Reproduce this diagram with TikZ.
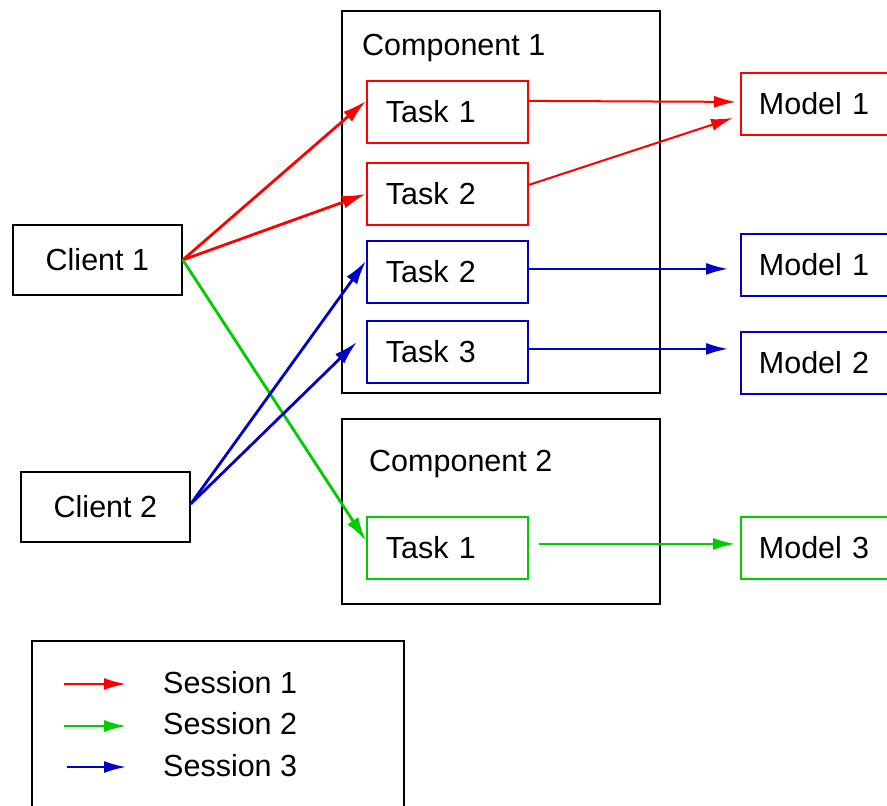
\documentclass[tikz,border=0pt]{standalone}
\usepackage{fontspec}
\setmainfont{Liberation Sans}
\usetikzlibrary{arrows.meta}
\definecolor{sred}{RGB}{255,0,0}
\definecolor{sgreen}{RGB}{0,205,0}
\definecolor{sblue}{RGB}{0,0,200}
\begin{document}
\begin{tikzpicture}[x=1pt,y=-1pt,
  font=\fontsize{30.5}{36}\selectfont,
  frame/.style={draw=black, line width=1.8pt, inner sep=0pt, anchor=north west},
  task/.style={draw, line width=1.8pt, minimum height=62pt, text width=123pt,
    inner xsep=19pt, inner ysep=0pt, align=left, anchor=north west},
  model/.style={draw, line width=1.8pt, minimum height=62pt, text width=134pt,
    inner xsep=18pt, inner ysep=0pt, align=left, anchor=north west},
  client/.style={draw=black, line width=1.8pt, minimum width=169pt,
    minimum height=70pt, inner sep=0pt, anchor=north west},
  label/.style={anchor=base west, inner sep=0pt},
  link/.style={line width=2.8pt, -{Latex[length=24pt,width=13pt]}},
  flat/.style={line width=2pt, -{Latex[length=22pt,width=12pt]}}
]
\clip (0,0) rectangle (887,806);
\fill[white] (0,0) rectangle (887,806);

% components
\node[frame, minimum width=318pt, minimum height=382pt] (k1) at (341,10) {};
\node[label] (k1lab) at (362,55) {Component 1};
\node[frame, minimum width=318pt, minimum height=185pt] (k2) at (341,418) {};
\node[label] (k2lab) at (369,471) {Component 2};

% tasks
\node[task, draw=sred]   (tr1) at (366,80)  {Task 1};
\node[task, draw=sred]   (tr2) at (366,162) {Task 2};
\node[task, draw=sblue]  (tb2) at (366,240) {Task 2};
\node[task, draw=sblue]  (tb3) at (366,320) {Task 3};
\node[task, draw=sgreen] (tg1) at (366,516) {Task 1};

% models
\node[model, draw=sred]   (mr1) at (740,72)  {Model 1};
\node[model, draw=sblue]  (mb1) at (740,233) {Model 1};
\node[model, draw=sblue]  (mb2) at (740,331) {Model 2};
\node[model, draw=sgreen] (mg3) at (740,516) {Model 3};

% clients
\node[client] (c1) at (12,224) {Client 1};
\node[client] (c2) at (20,471) {Client 2};

% session 1
\draw[link, draw=sred, fill=sred] (c1.east) -- ([yshift=11pt]tr1.west);
\draw[link, draw=sred, fill=sred] (c1.east) -- ([yshift=0pt]tr2.west);
\draw[flat, draw=sred, fill=sred] ([yshift=11pt]tr1.east) -- ([xshift=-4pt,yshift=2pt]mr1.west);
\draw[flat, draw=sred, fill=sred] ([yshift=9pt]tr2.east) -- ([xshift=-7pt,yshift=-14pt]mr1.west);

% session 2
\draw[link, draw=sgreen, fill=sgreen] (c1.east) -- ([yshift=7pt]tg1.west);
\draw[flat, draw=sgreen, fill=sgreen] ([xshift=10pt,yshift=4pt]tg1.east) -- ([xshift=-5pt,yshift=4pt]mg3.west);

% session 3
\draw[link, draw=sblue, fill=sblue] ([yshift=3pt]c2.east) -- ([yshift=11pt]tb2.west);
\draw[link, draw=sblue, fill=sblue] ([yshift=3pt]c2.east) -- ([xshift=-9pt,yshift=10pt]tb3.west);
\draw[flat, draw=sblue, fill=sblue] ([yshift=3pt]tb2.east) -- ([xshift=-12pt,yshift=-4pt]mb1.west);
\draw[flat, draw=sblue, fill=sblue] ([yshift=3pt]tb3.east) -- ([xshift=-12pt,yshift=14pt]mb2.west);

% legend
\node[frame, minimum width=372pt, minimum height=200pt] (leg) at (31,640) {};
\coordinate (l1a) at (64,684);  \coordinate (l1b) at (126,684);
\coordinate (l2a) at (64,726);  \coordinate (l2b) at (126,726);
\coordinate (l3a) at (67,767);  \coordinate (l3b) at (126,767);
\draw[flat, draw=sred, fill=sred]     (l1a) -- (l1b);
\draw[flat, draw=sgreen, fill=sgreen] (l2a) -- (l2b);
\draw[flat, draw=sblue, fill=sblue]   (l3a) -- (l3b);
\node[anchor=west, inner sep=0pt] (s1) at (163,683) {Session 1};
\node[anchor=west, inner sep=0pt] (s2) at (163,724) {Session 2};
\node[anchor=west, inner sep=0pt] (s3) at (163,766) {Session 3};
\end{tikzpicture}
\end{document}
